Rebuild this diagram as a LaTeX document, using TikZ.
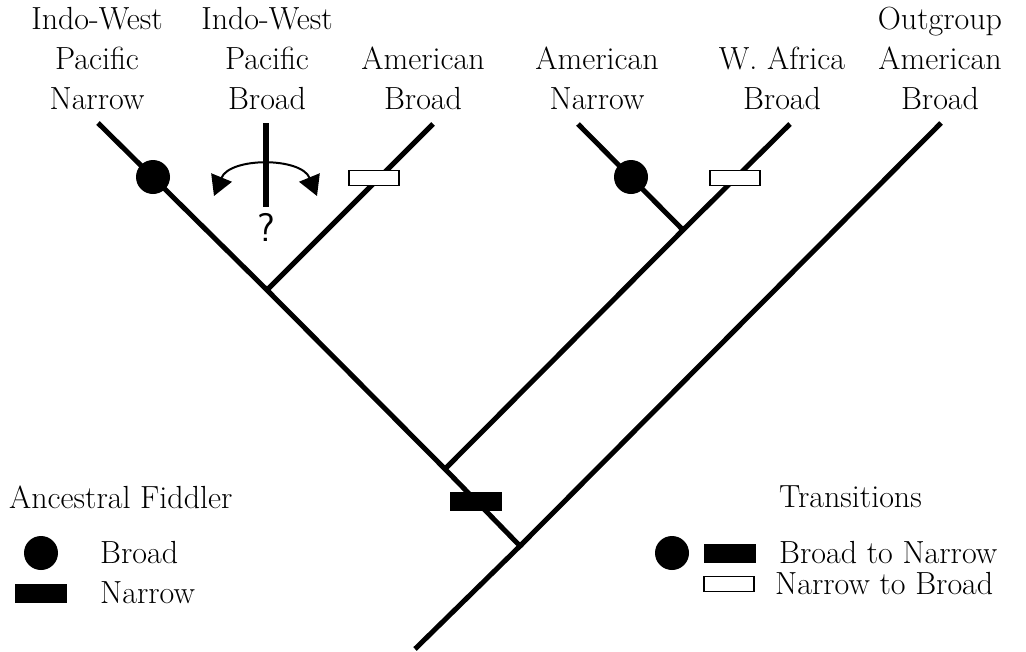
\documentclass[tikz,border=0pt]{standalone}
\usetikzlibrary{arrows.meta}
\begin{document}
\begin{tikzpicture}[x=1pt,y=-1pt,
  branch/.style={line width=5pt},
  lbl/.style={align=center,anchor=south,inner sep=0pt,font=\fontsize{32}{40}\selectfont},
  txt/.style={anchor=west,inner sep=0pt,font=\fontsize{32}{40}\selectfont},
  dotmark/.style={circle,fill=black,draw=none,minimum size=34pt,inner sep=0pt},
  narrowmark/.style={rectangle,fill=black,draw=black,line width=0.8pt,minimum width=51pt,minimum height=18pt,inner sep=0pt},
  broadmark/.style={rectangle,fill=white,draw=black,line width=1.6pt,minimum width=50pt,minimum height=15pt,inner sep=0pt},
  tip/.style={Triangle[length=20pt,width=22pt]}]
\useasboundingbox (0,0) rectangle (1026,651);
% tree points
\coordinate (root) at (415,649);
\coordinate (n1) at (520,546);
\coordinate (n2) at (445,469);
\coordinate (n3) at (267,290);
\coordinate (n4) at (683,230);
\coordinate (tIWPN) at (98,123);
\coordinate (tIWPBtop) at (266,123);
\coordinate (tIWPBbot) at (266,207);
\coordinate (tAB) at (433,124);
\coordinate (tAN) at (578,124);
\coordinate (tWA) at (790,124);
\coordinate (tOG) at (941,123);
% labels
\node[lbl] (lIWPN) at (97,110) {Indo-West\\Pacific\\Narrow};
\node[lbl] (lIWPB) at (267,110) {Indo-West\\Pacific\\Broad};
\node[lbl] (lAB) at (423,110) {American\\Broad};
\node[lbl] (lAN) at (597,110) {American\\Narrow};
\node[lbl] (lWA) at (782,110) {W. Africa\\Broad};
\node[lbl] (lOG) at (940,110) {Outgroup\\American\\Broad};
% branches
\draw[branch] (root) -- (n1) -- (n2) -- (n3) -- (tIWPN);
\draw[branch] (n1) -- (tOG);
\draw[branch] (n2) -- (n4) -- (tWA);
\draw[branch] (n4) -- (tAN);
\draw[branch] (n3) -- (tAB);
\draw[line width=6pt] (tIWPBtop) -- (tIWPBbot);
% uncertain rotation arrow
\coordinate (arL) at (214,196);
\coordinate (arR) at (317,196);
\draw[line width=2pt,{Triangle[length=20pt,width=22pt]}-{Triangle[length=20pt,width=22pt]}] (arL) .. controls (230,157) and (301,157) .. (arR);
\node[inner sep=0pt,font=\sffamily\fontsize{40}{40}\selectfont] (q) at (266,227) {?};
% markers
\node[dotmark] (m1) at (153,177) {};
\node[broadmark] (m2) at (374,178) {};
\node[dotmark] (m3) at (631,177) {};
\node[broadmark] (m4) at (735,178) {};
\node[narrowmark] (m5) at (476,501) {};
% left legend
\node[txt] (anc) at (9,497) {Ancestral Fiddler};
\node[dotmark] (lg1) at (41,553) {};
\node[txt] (lg1t) at (100,553) {Broad};
\node[narrowmark] (lg2) at (41,593) {};
\node[txt] (lg2t) at (100,593) {Narrow};
% right legend
\node[txt] (tr) at (779,497) {Transitions};
\node[dotmark] (rg1) at (672,553) {};
\node[narrowmark] (rg2) at (730,553) {};
\node[txt] (rg2t) at (779,553) {Broad to Narrow};
\node[broadmark] (rg3) at (729,584) {};
\node[txt] (rg3t) at (775,584) {Narrow to Broad};
\end{tikzpicture}
\end{document}
